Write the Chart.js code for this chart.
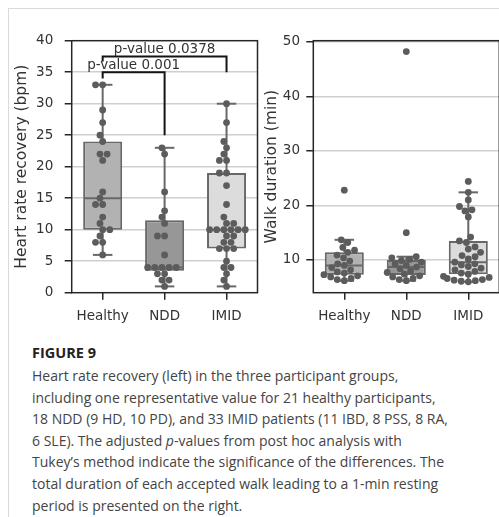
<!DOCTYPE html>
<html>
<head>
<meta charset="utf-8">
<script src="https://cdn.jsdelivr.net/npm/chart.js@4.4.1/dist/chart.umd.min.js"></script>
<style>
  html, body { margin: 0; padding: 0; background: #fff; width: 499px; height: 517px; overflow: hidden; }
  #panel { position: absolute; left: 8px; top: 8px; width: 560px; height: 560px;
           border-top: 1px solid #dadada; border-left: 1px solid #dadada; }
  #hrr  { position: absolute; left: 0; top: 0; }
  #walk { position: absolute; left: 258px; top: 0; }
  .cap-title { position: absolute; left: 32px; top: 343px; font-family: 'Open Sans', sans-serif;
               font-weight: 700; font-size: 14.5px; line-height: 20px; color: #222; }
  .cap-body { position: absolute; left: 32px; top: 365px; font-family: 'Open Sans', sans-serif;
              font-size: 14px; line-height: 21.6px; color: #444; white-space: nowrap; }
</style>
</head>
<body>
<div id="panel"></div>
<canvas id="hrr" width="262" height="335"></canvas>
<canvas id="walk" width="250" height="335"></canvas>
<div class="cap-title">FIGURE 9</div>
<div class="cap-body">
Heart rate recovery (left) in the three participant groups,<br>
including one representative value for 21 healthy participants,<br>
18 NDD (9 HD, 10 PD), and 33 IMID patients (11 IBD, 8 PSS, 8 RA,<br>
6 SLE). The adjusted <i>p</i>-values from post hoc analysis with<br>
Tukey’s method indicate the significance of the differences. The<br>
total duration of each accepted walk leading to a 1-min resting<br>
period is presented on the right.
</div>
<script>
// ---- data ---------------------------------------------------------------
const groups = ['Healthy', 'NDD', 'IMID'];

// Heart rate recovery (bpm), one value per participant
const hrrHealthy = [33, 33, 29, 27, 25, 24, 22, 22, 21, 16, 15, 14, 14, 12, 11, 10, 10, 9, 8, 8, 6];
const hrrNDD     = [23, 22, 16, 13, 12, 11, 9, 9, 6, 4, 4, 4, 4, 4, 3, 3, 2, 2, 1];
const hrrIMID    = [30, 27, 24, 23, 22, 21, 21, 19, 19, 17, 14, 12, 11, 11, 10, 10, 10, 10, 10, 10,
                    9, 9, 8, 8, 7, 7, 7, 5, 4, 4, 3, 2, 1];

// Total walk duration (min)
const walkHealthy = [22.8, 13.7, 13.2, 12.3, 11.8, 11.4, 10.9, 10.4, 9.8, 9.3, 9.0, 8.6, 8.2, 7.8,
                     7.6, 7.3, 7.1, 6.9, 6.6, 6.4, 6.2];
const walkNDD     = [48.2, 15.0, 10.6, 10.4, 10.1, 9.9, 9.6, 9.3, 9.0, 8.7, 8.4, 8.0, 7.7, 7.4,
                     7.1, 6.9, 6.6, 6.4, 6.2];
const walkIMID    = [24.4, 22.4, 21.0, 19.8, 19.2, 19.0, 17.9, 14.2, 13.5, 13.2, 12.4, 12.0, 11.4,
                     10.8, 10.6, 10.2, 9.6, 9.3, 9.1, 8.8, 8.5, 8.2, 7.9, 7.6, 7.4, 7.0, 6.8, 6.6,
                     6.4, 6.3, 6.2, 6.1, 6.0];

// Post hoc comparisons (group indices) and their adjusted p-values
const comparePairs  = [[0, 1], [0, 2]];
const compareLabels = ['p-value 0.001', 'p-value 0.0378'];
const bracketLevels = [35, 37.5];
const bracketLegEnds = [[34, 25], [36.7, 35]];

// ---- styling ------------------------------------------------------------
const FONT = 'DejaVu Sans';
const boxFill = ['#b2b2b2', '#979797', '#dcdcdc'];
const edgeColor = '#686868';
const dotColor = '#5c5c5c';
const inkColor = '#262626';
const textColor = '#333333';
const DOT_R = 3.4;

Chart.defaults.font.family = FONT;

// ---- statistics -----------------------------------------------------------
function quantile(sorted, p) {
  const pos = (sorted.length - 1) * p;
  const lo = Math.floor(pos), hi = Math.ceil(pos);
  return sorted[lo] + (sorted[hi] - sorted[lo]) * (pos - lo);
}
function boxStats(values) {
  const s = [...values].sort((a, b) => a - b);
  const q1 = quantile(s, 0.25), med = quantile(s, 0.5), q3 = quantile(s, 0.75);
  const iqr = q3 - q1;
  const lo = s.find(v => v >= q1 - 1.5 * iqr);
  const hi = [...s].reverse().find(v => v <= q3 + 1.5 * iqr);
  return { q1, med, q3, lo, hi };
}

// Beeswarm layout: points placed in value order, each at the free spot
// closest to the group's centre line, clipped to 40% of the slot width.
function swarm(values, yScale, xScale, center) {
  const cx = xScale.getPixelForValue(center);
  const half = xScale.getPixelForValue(center + 0.4) - cx;
  const d2 = (2 * DOT_R) ** 2;
  const pts = values.map(v => ({ v, y: -yScale.getPixelForValue(v) }));
  pts.sort((a, b) => a.y - b.y);
  const placed = [];
  for (const p of pts) {
    const nb = [];
    for (let j = placed.length - 1; j >= 0; j--) {
      if (p.y - placed[j].y < 2 * DOT_R) nb.unshift(placed[j]); else break;
    }
    let cands = [0];
    let leftFirst = true;
    for (const n of nb) {
      const dy = p.y - n.y;
      const dx = Math.sqrt(Math.max(d2 - dy * dy, 0)) * 1.05;
      const cl = n.x - dx, cr = n.x + dx;
      cands.push(...(leftFirst ? [cl, cr] : [cr, cl]));
      leftFirst = !leftFirst;
    }
    cands = cands.map((x, i) => ({ x, i }))
                 .sort((a, b) => (Math.abs(a.x) - Math.abs(b.x)) || (a.i - b.i))
                 .map(c => c.x);
    let x = cands[0];
    if (nb.length) {
      for (const c of cands) {
        if (nb.every(n => (n.x - c) ** 2 + (n.y - p.y) ** 2 >= d2 - 1e-6)) { x = c; break; }
      }
    }
    placed.push({ x, y: p.y, v: p.v });
  }
  return placed.map(p => ({
    x: xScale.getValueForPixel(cx + Math.max(-half, Math.min(half, p.x))),
    y: p.v
  }));
}

// box statistics per canvas, filled before each chart is built
const statsByCanvas = {};

// ---- plugins ----------------------------------------------------------------
// whiskers, caps and median lines on top of each box
const boxParts = {
  id: 'boxParts',
  afterDatasetDraw(chart, args) {
    if (args.index !== 1) return;
    const stats = statsByCanvas[chart.canvas.id];
    if (!stats) return;
    const { ctx } = chart;
    const y = chart.scales.y;
    ctx.save();
    ctx.strokeStyle = edgeColor;
    ctx.lineWidth = 2;
    ctx.lineCap = 'butt';
    const line = (x0, y0, x1, y1) => { ctx.beginPath(); ctx.moveTo(x0, y0); ctx.lineTo(x1, y1); ctx.stroke(); };
    stats.forEach((s, i) => {
      const bar = args.meta.data[i];
      const cx = bar.x, hw = bar.width / 2;
      line(cx, y.getPixelForValue(s.q3), cx, y.getPixelForValue(s.hi));
      line(cx, y.getPixelForValue(s.q1), cx, y.getPixelForValue(s.lo));
      line(cx - hw / 2, y.getPixelForValue(s.hi), cx + hw / 2, y.getPixelForValue(s.hi));
      line(cx - hw / 2, y.getPixelForValue(s.lo), cx + hw / 2, y.getPixelForValue(s.lo));
      line(cx - hw + 1, y.getPixelForValue(s.med), cx + hw - 1, y.getPixelForValue(s.med));
    });
    ctx.restore();
  }
};

// closed frame around the plotting area
const frame = {
  id: 'frame',
  beforeDatasetsDraw(chart) {
    const { ctx, chartArea: a } = chart;
    ctx.save();
    ctx.strokeStyle = inkColor;
    ctx.lineWidth = 1.5;
    ctx.strokeRect(a.left, a.top, a.right - a.left, a.bottom - a.top);
    ctx.restore();
  }
};

// significance brackets with their p-values
const brackets = {
  id: 'brackets',
  afterDatasetsDraw(chart) {
    const { ctx } = chart;
    const x = chart.scales.x, y = chart.scales.y;
    ctx.save();
    ctx.strokeStyle = '#141414';
    ctx.lineWidth = 2;
    ctx.fillStyle = textColor;
    ctx.font = `13.5px "${FONT}"`;
    ctx.textAlign = 'center';
    ctx.textBaseline = 'alphabetic';
    comparePairs.forEach(([a, b], k) => {
      const xa = x.getPixelForValue(a), xb = x.getPixelForValue(b);
      const yt = y.getPixelForValue(bracketLevels[k]);
      ctx.beginPath();
      ctx.moveTo(xa, y.getPixelForValue(bracketLegEnds[k][0]));
      ctx.lineTo(xa, yt);
      ctx.lineTo(xb, yt);
      ctx.lineTo(xb, y.getPixelForValue(bracketLegEnds[k][1]));
      ctx.stroke();
      ctx.fillText(compareLabels[k], (xa + xb) / 2, yt - 3);
    });
    ctx.restore();
  }
};

// ---- chart builder ----------------------------------------------------------
function buildChart(id, cfg) {
  const stats = cfg.series.map(boxStats);
  statsByCanvas[id] = stats;
  const chart = new Chart(document.getElementById(id), {
    type: 'bar',
    data: {
      labels: groups,
      datasets: [
        {
          type: 'scatter', xAxisID: 'xs', yAxisID: 'y', data: [], order: 0,
          pointRadius: DOT_R, pointHoverRadius: DOT_R, pointBorderWidth: 0,
          pointBackgroundColor: dotColor, backgroundColor: dotColor
        },
        {
          type: 'bar', xAxisID: 'x', yAxisID: 'y', order: 1, grouped: false,
          data: stats.map(s => [s.q1, s.q3]),
          backgroundColor: boxFill, borderColor: edgeColor, borderWidth: 2,
          borderSkipped: false, barPercentage: 0.63, categoryPercentage: 1
        }
      ]
    },
    options: {
      responsive: false, animation: false, events: [],
      layout: { padding: { left: 0, right: cfg.padRight, top: 40.7, bottom: 0 } },
      plugins: { legend: { display: false }, tooltip: { enabled: false } },
      scales: {
        x: {
          type: 'category', offset: true,
          grid: { offset: false, drawOnChartArea: false, tickColor: inkColor, tickLength: 7, lineWidth: 1.5 },
          border: { display: false },
          ticks: { color: textColor, font: { size: 13.5 }, padding: 8.5 },
          afterFit(s) { s.height = 42.3; }
        },
        xs: { type: 'linear', position: 'bottom', min: -0.5, max: 2.5, offset: false, display: false },
        y: {
          min: cfg.min, max: cfg.max,
          ticks: { stepSize: cfg.step, includeBounds: false, color: textColor, font: { size: 13.5 }, padding: cfg.tickPad },
          grid: {
            color: c => (c.tick && c.tick.value > cfg.min && c.tick.value < cfg.max) ? '#cfcfcf' : 'rgba(0,0,0,0)',
            lineWidth: 1.5, tickColor: inkColor, tickLength: 7
          },
          border: { display: false },
          title: {
            display: true, text: cfg.title, color: textColor,
            font: { size: 15.5 }, padding: { top: cfg.titlePad, bottom: 0 }
          },
          afterFit(s) { s.width = cfg.yWidth; }
        }
      }
    },
    plugins: cfg.plugins
  });
  const pts = [];
  cfg.series.forEach((vals, i) => pts.push(...swarm(vals, chart.scales.y, chart.scales.xs, i)));
  chart.data.datasets[0].data = pts;
  chart.update('none');
  return chart;
}

buildChart('hrr', {
  series: [hrrHealthy, hrrNDD, hrrIMID],
  min: 0, max: 40, step: 5,
  title: 'Heart rate recovery (bpm)',
  yWidth: 71.7, padRight: 4.5, tickPad: 11.4, titlePad: 12.4,
  plugins: [frame, boxParts, brackets]
});

buildChart('walk', {
  series: [walkHealthy, walkNDD, walkIMID],
  min: 4.0, max: 50.2, step: 10,
  title: 'Walk duration (min)',
  yWidth: 55.3, padRight: 8.7, tickPad: 6.3, titlePad: 4.4,
  plugins: [frame, boxParts]
});
</script>
</body>
</html>
